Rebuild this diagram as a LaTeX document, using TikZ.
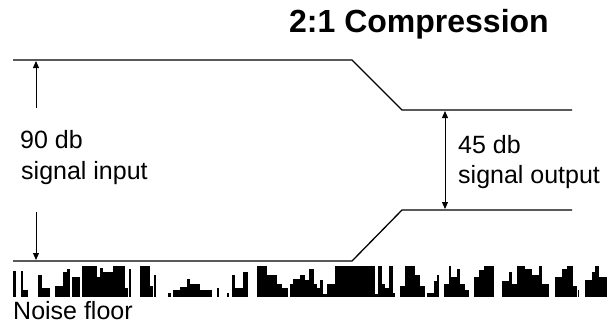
\documentclass[tikz,border=0pt]{standalone}
\usepackage{fontspec}
\setmainfont{Liberation Sans}
\usetikzlibrary{arrows.meta}
\begin{document}
\begin{tikzpicture}[x=1pt,y=-1pt,
  level/.style={line width=1.3pt},
  dimarrow/.style={line width=1pt,-{Triangle[length=7pt,width=6pt]}},
  dimboth/.style={line width=1pt,{Triangle[length=7pt,width=6pt]}-{Triangle[length=7pt,width=6pt]}},
  lbl/.style={anchor=base west,inner sep=0pt,font=\fontsize{25}{30}\selectfont},
  title/.style={anchor=base west,inner sep=0pt,font=\fontsize{32}{38}\selectfont\bfseries}]
\useasboundingbox[fill=white] (0,0) rectangle (607,325);

% signal level corners
\coordinate (inTL) at (13,60);
\coordinate (inTK) at (352,60);
\coordinate (outTK) at (402,110);
\coordinate (outTR) at (572,110);
\coordinate (inBL) at (13,261);
\coordinate (inBK) at (352,261);
\coordinate (outBK) at (402,210);
\coordinate (outBR) at (572,210);

% upper and lower envelope of the signal
\draw[level] (inTL) -- (inTK) -- (outTK) -- (outTR);
\draw[level] (inBL) -- (inBK) -- (outBK) -- (outBR);

% input range arrows
\coordinate (upFoot) at (36,108);
\coordinate (upTip) at (36,61);
\coordinate (dnFoot) at (36,212);
\coordinate (dnTip) at (36,260);
\draw[dimarrow] (upFoot) -- (upTip);
\draw[dimarrow] (dnFoot) -- (dnTip);

% output range arrow
\coordinate (oTop) at (445,111);
\coordinate (oBot) at (445,209);
\draw[dimboth] (oTop) -- (oBot);

% labels
\node[title] (ttl) at (289,32) {2:1 Compression};
\node[lbl] (in1) at (20,148) {90 db};
\node[lbl] (in2) at (21,179) {signal input};
\node[lbl] (out1) at (458,153) {45 db};
\node[lbl] (out2) at (458,183) {signal output};
\node[lbl] (nf) at (13,319) {Noise floor};

% noise floor bars: left edge / right edge / height
\foreach \a/\b/\h in {
 13.3/16/23, 20.7/23.3/23, 23.3/28.3/6, 38.3/41.7/20, 41.7/50/8,
 55/63.3/10, 63.3/66.7/22, 66.7/70/25, 72/80/18, 81.7/96.7/28,
 96.7/100/18, 100/103.3/26, 103.3/113.3/22, 113.3/125/30, 125/128.3/8,
 129.3/131.3/25, 140/150/28, 150/153.3/10, 154/156/20, 168.3/170.7/4,
 173.3/180/6, 180/186.7/9, 186.7/190/16, 190/200/12, 200/211.7/6,
 216.7/218.7/8, 226.7/229.3/4, 231.7/235/20, 235/243.3/8, 243.3/248.3/22,
 256.7/266.7/28, 266.7/276.7/20, 276.7/281.7/12, 281.7/288.3/8,
 290/293.3/12, 293.3/300/16, 300/305/20,
 302/308.7/15, 308.7/313.7/25, 313.7/317/12, 317/320.3/8, 320.3/322.7/15,
 322.7/327/3, 327/335.3/12, 335.3/348/31, 348/352/28, 352/375.3/31,
 375.3/378/3, 378/382/28, 382/385.3/12, 385.3/389.3/8, 389.3/392.7/28,
 392.7/395.3/4, 400.3/405.3/10, 405.3/415.3/28, 415.3/420.3/20,
 420.3/425.3/10, 427/433.7/4, 433.7/437/14, 437/438.7/20,
 443.7/448.7/12, 448.7/451.3/28, 451.3/457/18, 457/460.3/25,
 460.3/465.3/12, 465.3/468.7/6, 473.7/478.7/18, 478.7/483.7/24,
 483.7/493.7/28, 502/508.7/14, 508.7/512/22, 512/517/12, 517/525.3/28,
 525.3/532/25, 532/538.7/20, 538.7/542/28, 542/548.7/12, 555.3/562/18,
 562/567/25, 567/570.3/30, 570.3/572.7/28, 572.7/577/10, 578/579.3/6,
 585.3/592/15, 592/595.3/22, 595.3/598.7/30, 598.7/607/18}
  \fill[black] (\a,297) rectangle (\b,{297-min(31,1.12*\h)});
\end{tikzpicture}
\end{document}
